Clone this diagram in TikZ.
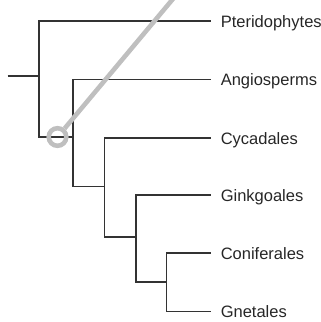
\documentclass[tikz,border=0pt]{standalone}
\usepackage{fontspec}
\setmainfont{Liberation Sans}
\begin{document}
\begin{tikzpicture}[x=1pt,y=-1pt,
  branch/.style={draw=black!80, line width=1.1pt},
  taxon/.style={anchor=base west, inner xsep=9.6pt, inner ysep=0pt, font=\fontsize{16.5}{19}\selectfont, text=black!85},
  marker/.style={draw=gray!50, line width=4.6pt}]
\useasboundingbox (0,0) rectangle (321,322);
% leaf ends
\coordinate (lP) at (211,21);
\coordinate (lA) at (211,79.5);
\coordinate (lC) at (211,138);
\coordinate (lG) at (211,195);
\coordinate (lF) at (211,253);
\coordinate (lN) at (211,311.5);
% labels
\node[taxon] (tP) at ([yshift=-6pt]lP) {Pteridophytes};
\node[taxon] (tA) at ([yshift=-6pt]lA) {Angiosperms};
\node[taxon] (tC) at ([yshift=-6pt]lC) {Cycadales};
\node[taxon] (tG) at ([yshift=-6pt]lG) {Ginkgoales};
\node[taxon] (tF) at ([yshift=-6pt]lF) {Coniferales};
\node[taxon] (tN) at ([yshift=-6pt]lN) {Gnetales};
% internal nodes
\coordinate (start) at (7.5,76);
\coordinate (root) at (39,76);
\coordinate (nA) at (73,137);
\coordinate (nB) at (104.5,186.5);
\coordinate (nC) at (136,237);
\coordinate (nD) at (166.5,282);
% branches
\draw[branch] (start) -- (root);
\draw[branch] (root) |- (lP);
\draw[branch] (root) |- (nA);
\draw[branch] (nA) |- (lA);
\draw[branch] (nA) |- (nB);
\draw[branch] (nB) |- (lC);
\draw[branch] (nB) |- (nC);
\draw[branch] (nC) |- (lG);
\draw[branch] (nC) |- (nD);
\draw[branch] (nD) |- (lF);
\draw[branch] (nD) |- (lN);
% marker
\node[marker, circle, minimum size=17.6pt, inner sep=0pt] (ring) at (57.5,137) {};
\coordinate (far) at (176.2,-5);
\draw[marker] (ring) -- (far);
\end{tikzpicture}
\end{document}
